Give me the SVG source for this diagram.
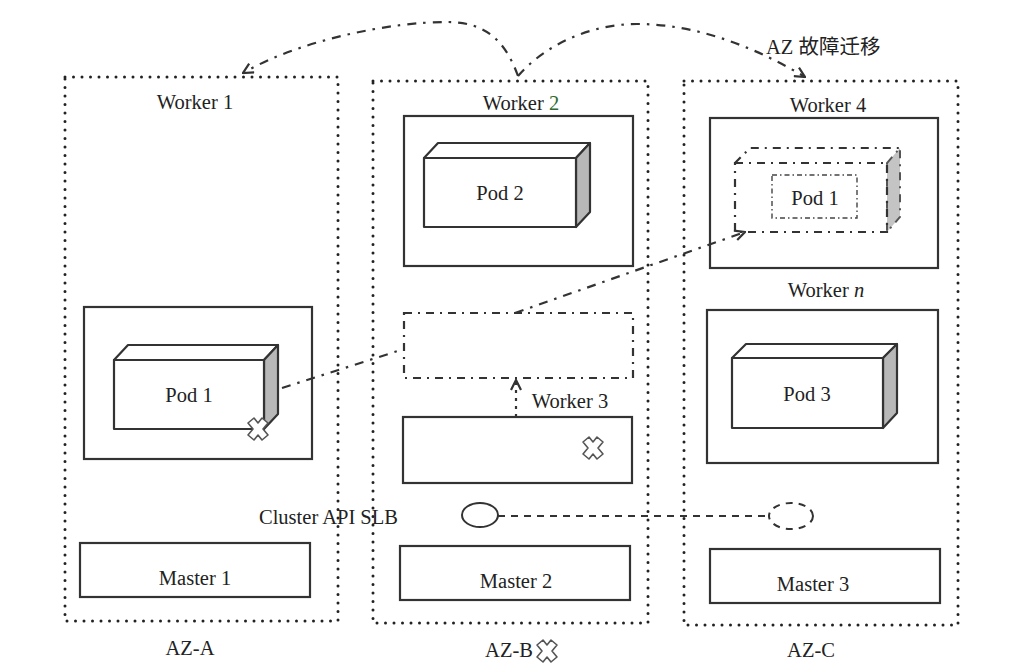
<svg xmlns="http://www.w3.org/2000/svg" width="1015" height="665" viewBox="0 0 1015 665">
<defs>
<style>
text{font-family:"Liberation Serif","Times New Roman","Noto Sans CJK SC",serif;font-size:20.5px;fill:#222;}
.mid{text-anchor:middle;}
.az{fill:none;stroke:#222;stroke-width:3;stroke-linecap:round;stroke-dasharray:0 8.5;}
.box{fill:#fff;stroke:#333;stroke-width:2.2;}
.face{fill:#fff;stroke:#333;stroke-width:2.2;stroke-linejoin:round;}
.side{fill:#b8b8b8;stroke:#333;stroke-width:2.2;stroke-linejoin:round;}
.ghost{fill:none;stroke:#333;stroke-width:2.2;stroke-dasharray:8 6 2 6;}
.gside{fill:#c4c4c4;stroke:#555;stroke-width:2;stroke-dasharray:8 6 2 6;}
.inner{fill:none;stroke:#444;stroke-width:1.4;stroke-dasharray:5 3 1.5 3;}
.dd{fill:none;stroke:#333;stroke-width:2.2;stroke-dasharray:9 7 2.5 7;}
.dash{fill:none;stroke:#333;stroke-width:2;stroke-dasharray:7 6;}
.dot{fill:none;stroke:#333;stroke-width:2.2;stroke-dasharray:3 5;}
.xm{fill:#fff;stroke:#555;stroke-width:1.6;stroke-linejoin:round;}
</style>
<marker id="arr" viewBox="0 0 12 12" refX="11" refY="6" markerWidth="12" markerHeight="12" markerUnits="userSpaceOnUse" orient="auto">
<path d="M1,1 L11,6 L1,11" fill="none" stroke="#333" stroke-width="2.2"/>
</marker>
<path id="xshape" d="M-4,-11 L0,-6 L4,-11 L10,-6 L5,0 L10,6 L4,11 L0,6 L-4,11 L-10,6 L-5,0 L-10,-6 Z"/>
</defs>
<rect width="1015" height="665" fill="#fff"/>

<g id="az-a">
<rect class="az" x="65" y="77" width="273" height="544"/>
<text class="mid" x="190" y="655">AZ-A</text>
</g>
<g id="az-b">
<rect class="az" x="373" y="81" width="275" height="542"/>
<text class="mid" x="509" y="657">AZ-B</text>
<use href="#xshape" class="xm" x="547" y="651"/>
</g>
<g id="az-c">
<rect class="az" x="684" y="81" width="274" height="544"/>
<text class="mid" x="811" y="657">AZ-C</text>
</g>

<g id="worker1">
<text class="mid" x="195" y="109">Worker 1</text>
<rect class="box" x="84" y="307" width="228" height="152"/>
</g>
<g id="pod1">
<polygon class="face" points="114,360 128,345 278,345 264,360"/>
<polygon class="side" points="264,360 278,345 278,414 264,429"/>
<rect class="face" x="114" y="360" width="150" height="69"/>
<text class="mid" x="189" y="402">Pod 1</text>
<use href="#xshape" class="xm" x="258" y="429"/>
</g>

<g id="worker2">
<text class="mid" x="521" y="110">Worker <tspan fill="#2f6a2f">2</tspan></text>
<rect class="box" x="404" y="116" width="229" height="150"/>
</g>
<g id="pod2">
<polygon class="face" points="424,158 438,143 590,143 576,158"/>
<polygon class="side" points="576,158 590,143 590,212 576,227"/>
<rect class="face" x="424" y="158" width="152" height="69"/>
<text class="mid" x="500" y="200">Pod 2</text>
</g>

<g id="ghost-b">
<rect class="ghost" x="404" y="313" width="229" height="65"/>
</g>

<g id="worker3">
<text class="mid" x="570" y="408">Worker 3</text>
<rect class="box" x="403" y="417" width="229" height="66"/>
<use href="#xshape" class="xm" x="593" y="448"/>
</g>

<g id="worker4">
<text class="mid" x="828" y="112">Worker 4</text>
<rect class="box" x="710" y="118" width="228" height="150"/>
</g>
<g id="pod1-migrated">
<polygon class="gside" points="887,163 900,148 900,217 887,232"/>
<path class="ghost" d="M735,163 L750,148 L900,148 M735,163 L887,163 L887,232 L735,232 Z"/>
<rect class="inner" x="772" y="175" width="85" height="43"/>
<text class="mid" x="815" y="205">Pod 1</text>
</g>

<g id="workern">
<text class="mid" x="826" y="297">Worker <tspan font-style="italic">n</tspan></text>
<rect class="box" x="707" y="310" width="231" height="153"/>
</g>
<g id="pod3">
<polygon class="face" points="732,358 746,344 897,344 883,358"/>
<polygon class="side" points="883,358 897,344 897,413 883,428"/>
<rect class="face" x="732" y="358" width="151" height="70"/>
<text class="mid" x="807" y="401">Pod 3</text>
</g>

<g id="slb">
<text x="259" y="524">Cluster API SLB</text>
<ellipse cx="480" cy="515" rx="18" ry="12" fill="#fff" stroke="#333" stroke-width="2"/>
</g>
<g id="slb-ghost">
<ellipse cx="791" cy="516" rx="22" ry="13" class="dash"/>
</g>

<g id="master1">
<rect class="box" x="80" y="543" width="230" height="54"/>
<text class="mid" x="195" y="585">Master 1</text>
</g>
<g id="master2">
<rect class="box" x="400" y="546" width="230" height="54"/>
<text class="mid" x="516" y="588">Master 2</text>
</g>
<g id="master3">
<rect class="box" x="710" y="549" width="230" height="54"/>
<text class="mid" x="813" y="591">Master 3</text>
</g>

<g id="connectors">
<path class="dd" d="M518,76 C505,40 485,22 447,22 C390,22 300,40 243,73" marker-end="url(#arr)"/>
<path class="dd" d="M518,76 C545,45 590,24 637,24 C700,24 760,50 805,77" marker-end="url(#arr)"/>
<path class="dd" d="M282,388 L404,349"/>
<path class="dd" d="M515,313 L745,232" marker-end="url(#arr)"/>
<path class="dot" d="M516,417 L516,380" marker-end="url(#arr)"/>
<path class="dash" d="M498,516 L769,516"/>
</g>
<g id="label-failover">
<text x="766" y="54">AZ 故障迁移</text>
</g>
</svg>
